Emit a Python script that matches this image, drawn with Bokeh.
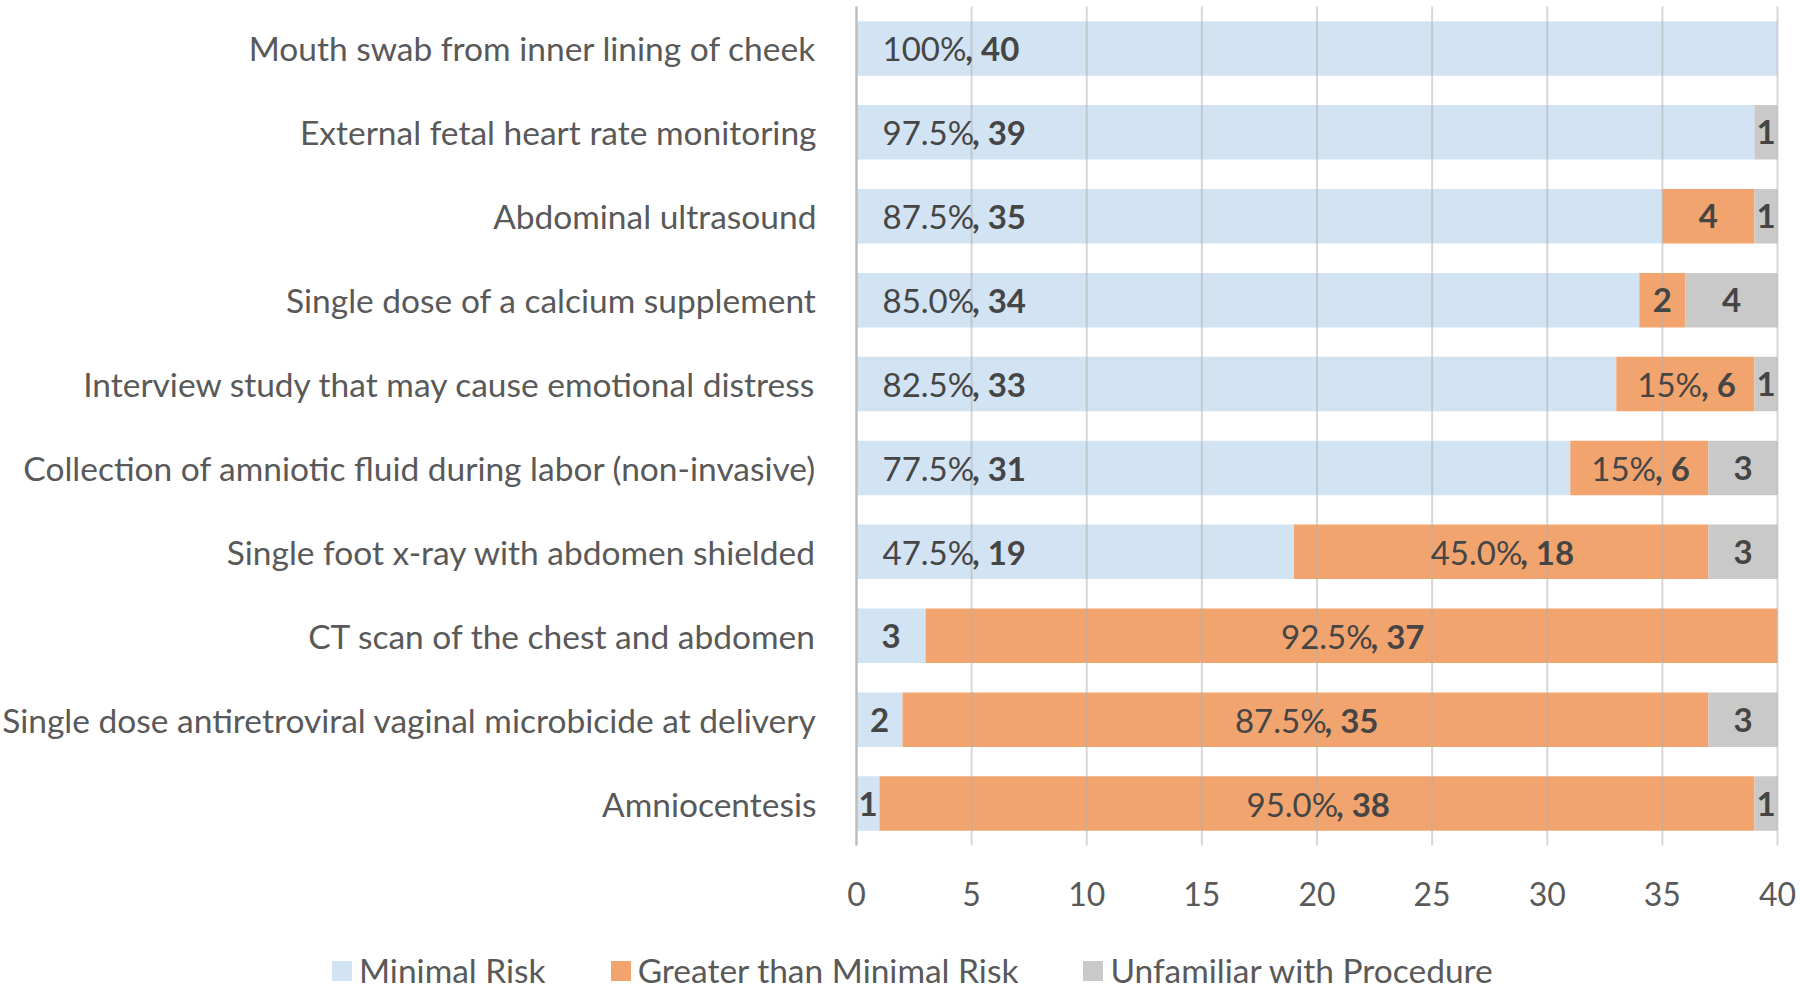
from bokeh.plotting import figure
from bokeh.models import ColumnDataSource, Range1d, FixedTicker, Legend, LegendItem
from bokeh.core.properties import value
from bokeh.embed import file_html
from bokeh.resources import INLINE

categories = [
    "Mouth swab from inner lining of cheek",
    "External fetal heart rate monitoring",
    "Abdominal ultrasound",
    "Single dose of a calcium supplement",
    "Interview study that may cause emotional distress",
    "Collection of amniotic fluid during labor (non-invasive)",
    "Single foot x-ray with abdomen shielded",
    "CT scan of the chest and abdomen",
    "Single dose antiretroviral vaginal microbicide at delivery",
    "Amniocentesis",
]
minimal = [40, 39, 35, 34, 33, 31, 19, 3, 2, 1]
greater = [0, 0, 4, 2, 6, 6, 18, 37, 35, 38]
unfamiliar = [0, 1, 1, 4, 1, 3, 3, 0, 3, 1]
minimal_pct = ["100%", "97.5%", "87.5%", "85.0%", "82.5%", "77.5%", "47.5%", "", "", ""]
greater_pct = ["", "", "", "", "15%", "15%", "45.0%", "92.5%", "87.5%", "95.0%"]
unfamiliar_pct = ["", "", "", "", "", "", "", "", "", ""]
series_keys = ["minimal", "greater", "unfamiliar"]
series_names = ["Minimal Risk", "Greater than Minimal Risk", "Unfamiliar with Procedure"]
colors = ["#D2E3F3", "#F2A46F", "#C9C9C9"]
x_ticks = [0, 5, 10, 15, 20, 25, 30, 35, 40]

FONT = "Lato"
FS = 33
CAT_FS = "33.5px"
LEG_FS = "33.5px"
TXT = "#595959"
LBL = "#454545"

# page geometry (pixels)
W, H = 1800, 990
PLOT_L, PLOT_R, PLOT_T, BAND = 856, 1777, 6, 83.9

n = len(categories)
pos = [n - 1 - i for i in range(n)]          # top category highest
x_max = max(x_ticks)
ppu = (PLOT_R - PLOT_L) / x_max
x_start = -PLOT_L / ppu
x_end = x_max + (W - PLOT_R) / ppu
y_end = (n - 0.5) + PLOT_T / BAND
y_start = y_end - H / BAND

REG_W = {c: 0.58 for c in "0123456789"}
REG_W.update({".": 0.2, ",": 0.2, "%": 0.77, " ": 0.193})
BOLD_W = {c: 0.58 for c in "0123456789"}
BOLD_W.update({",": 0.21, " ": 0.193})


def tw(s, table):
    return sum(table.get(c, 0.58) for c in s) * FS


src = ColumnDataSource(dict(pos=pos, minimal=minimal, greater=greater, unfamiliar=unfamiliar))

p = figure(
    width=W, height=H,
    x_range=Range1d(x_start, x_end), y_range=Range1d(y_start, y_end),
    output_backend="svg", toolbar_location=None, min_border=0,
)

bars = p.hbar_stack(series_keys, y="pos", height=0.65, color=colors, source=src, line_width=0)

# gridlines over the bar area only
grid_x = [t for t in x_ticks if t != 0]
g = p.segment(x0=grid_x, x1=grid_x, y0=[-0.5] * len(grid_x), y1=[n - 0.5] * len(grid_x),
              line_color="#B0B0B0", line_alpha=0.5, line_width=2)
g.level = "guide"
ax_line = p.segment(x0=[0], x1=[0], y0=[-0.5], y1=[n - 0.5],
                    line_color="#BEBEBE", line_alpha=1.0, line_width=2.5)
ax_line.level = "guide"

# labels
norm = dict(x=[], y=[], text=[], xo=[])
bold = dict(x=[], y=[], text=[], xo=[])
vals = [minimal, greater, unfamiliar]
pcts = [minimal_pct, greater_pct, unfamiliar_pct]
for i in range(n):
    left = 0
    for s in range(3):
        v = vals[s][i]
        if v == 0:
            continue
        prefix = pcts[s][i]
        if prefix:
            ntext = prefix
            btext = ", " + str(v)
        else:
            ntext = ""
            btext = str(v)
        wn = tw(ntext, REG_W)
        wb = tw(btext, BOLD_W)
        if s == 0 and prefix:
            ax = 0
            on = 26
        else:
            ax = left + v / 2
            on = -(wn + wb) / 2
        if ntext:
            norm["x"].append(ax); norm["y"].append(pos[i]); norm["text"].append(ntext); norm["xo"].append(on)
        bold["x"].append(ax); bold["y"].append(pos[i]); bold["text"].append(btext); bold["xo"].append(on + wn)
        left += v

r1 = p.text(x="x", y="y", text="text", x_offset="xo", source=ColumnDataSource(norm),
            text_font=value(FONT), text_font_size=f"{FS}px", text_color=LBL,
            text_align="left", text_baseline="middle")
r2 = p.text(x="x", y="y", text="text", x_offset="xo", source=ColumnDataSource(bold),
            text_font=value(FONT), text_font_size=f"{FS}px", text_font_style="bold", text_color=LBL,
            text_align="left", text_baseline="middle")
r1.level = "annotation"
r2.level = "annotation"

# axes drawn at the plot-area edges
p.xaxis.fixed_location = -0.5
p.xaxis.ticker = FixedTicker(ticks=x_ticks)
p.xaxis.axis_line_color = None
p.xaxis.major_tick_line_color = None
p.xaxis.minor_tick_line_color = None
p.xaxis.major_label_standoff = 30
p.xaxis.major_label_text_font = FONT
p.xaxis.major_label_text_font_size = "32px"
p.xaxis.major_label_text_color = TXT

p.yaxis.fixed_location = 0
p.yaxis.ticker = FixedTicker(ticks=pos)
p.yaxis.major_label_overrides = {pp: c for pp, c in zip(pos, categories)}
p.yaxis.axis_line_color = None
p.yaxis.major_tick_line_color = None
p.yaxis.minor_tick_line_color = None
p.yaxis.major_label_standoff = 34
p.yaxis.major_label_text_font = FONT
p.yaxis.major_label_text_font_size = CAT_FS
p.yaxis.major_label_text_color = TXT

p.xgrid.visible = False
p.ygrid.visible = False
p.outline_line_color = None
p.background_fill_color = "white"
p.border_fill_color = "white"

lg = Legend(items=[LegendItem(label=nm, renderers=[r]) for nm, r in zip(series_names, bars)])
lg.orientation = "horizontal"
lg.location = (329, 0)
lg.glyph_width = 25
lg.glyph_height = 25
lg.label_standoff = 5
lg.spacing = 62
lg.padding = 0
lg.margin = 0
lg.border_line_color = None
lg.background_fill_alpha = 0
lg.label_text_font = FONT
lg.label_text_font_size = LEG_FS
lg.label_text_color = TXT
p.add_layout(lg, "center")

open("out.html", "w").write(file_html(p, INLINE))
